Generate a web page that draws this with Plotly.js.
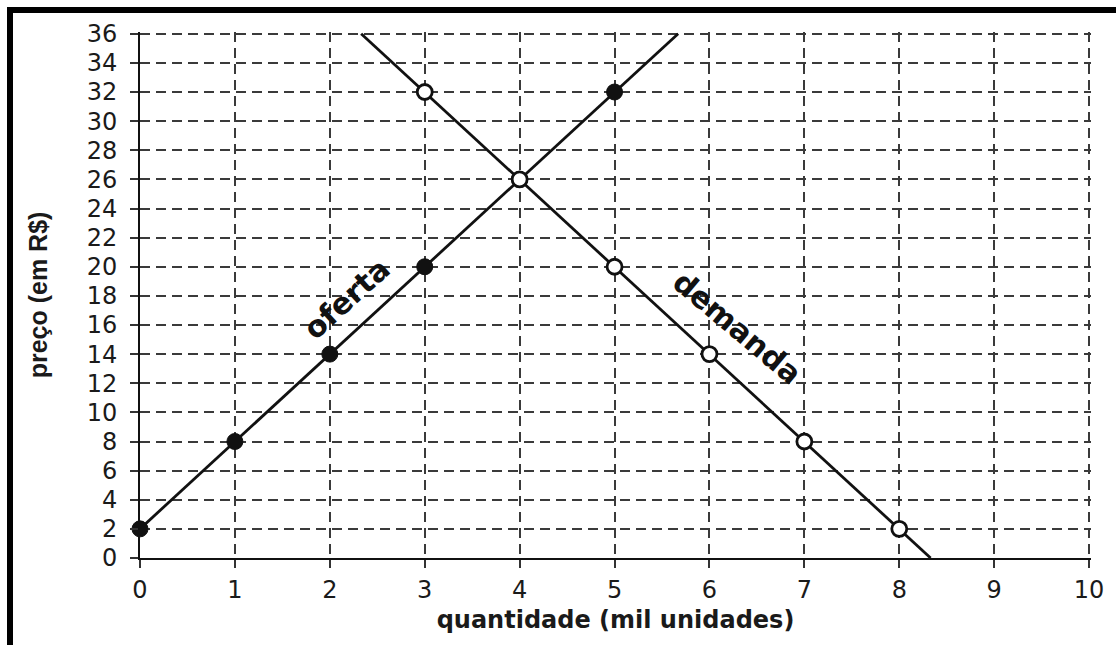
<!DOCTYPE html>
<html>
<head>
<meta charset="utf-8">
<script src="https://cdn.plot.ly/plotly-3.0.1.min.js"></script>
<style>
  html, body { margin: 0; padding: 0; background: #fff; }
  #wrap { position: relative; width: 1116px; height: 645px; overflow: hidden; }
  #chart { position: absolute; left: 0; top: 0; width: 1116px; height: 645px; }
  #frame { position: absolute; left: 7px; top: 7px; right: -10px; bottom: -10px;
           border-left: 6px solid #000; border-top: 6px solid #000; pointer-events: none; }
</style>
</head>
<body>
<div id="wrap">
  <div id="chart"></div>
  <div id="frame"></div>
</div>
<script>
// Quantities (mil unidades) and prices (R$)
const ofertaQtd   = [0, 1, 2, 3, 4, 5];
const ofertaPreco = [2, 8, 14, 20, 26, 32];
const demandaQtd   = [3, 4, 5, 6, 7, 8];
const demandaPreco = [32, 26, 20, 14, 8, 2];
// line extents as drawn in the picture (lines continue to the plot edges)
const ofertaLinhaQtd   = [0, 5.67];
const ofertaLinhaPreco = [2, 36];
const demandaLinhaQtd   = [2.33, 8.33];
const demandaLinhaPreco = [36, 0];

const xTicks = [0, 1, 2, 3, 4, 5, 6, 7, 8, 9, 10];
const yTicks = [0, 2, 4, 6, 8, 10, 12, 14, 16, 18, 20, 22, 24, 26, 28, 30, 32, 34, 36];

const lineStyle = { color: '#111', width: 2.8 };

const traces = [
  { x: ofertaLinhaQtd, y: ofertaLinhaPreco, mode: 'lines', line: lineStyle, hoverinfo: 'skip' },
  { x: demandaLinhaQtd, y: demandaLinhaPreco, mode: 'lines', line: lineStyle, hoverinfo: 'skip' },
  { x: ofertaQtd, y: ofertaPreco, mode: 'markers', cliponaxis: false,
    marker: { size: 16, color: '#111', line: { color: '#111', width: 1 } } },
  { x: demandaQtd, y: demandaPreco, mode: 'markers', cliponaxis: false,
    marker: { size: 15, color: '#fff', line: { color: '#111', width: 2.8 } } }
];

const gridCommon = {
  showgrid: true, gridcolor: '#3a3a3a', gridwidth: 2, griddash: '10px,6px',
  zeroline: false, showline: true, linecolor: '#111', linewidth: 2,
  ticks: 'outside', ticklen: 8, tickwidth: 2, tickcolor: '#333',
  tickfont: { family: 'DejaVu Sans', size: 24, color: '#1a1a1a' }
};

const layout = {
  width: 1116, height: 645,
  margin: { l: 140, r: 25, t: 32, b: 87 },
  paper_bgcolor: '#fff', plot_bgcolor: '#fff',
  showlegend: false,
  xaxis: Object.assign({}, gridCommon, {
    range: [0, 10.02], tickvals: xTicks, ticktext: xTicks.map(String),
    ticklabelstandoff: 1,
    title: { text: 'quantidade (mil unidades)', standoff: 8,
             font: { family: 'DejaVu Sans', size: 24, weight: 'bold', color: '#1a1a1a' } }
  }),
  yaxis: Object.assign({}, gridCommon, {
    range: [0, 36.12], tickvals: yTicks, ticktext: yTicks.map(String),
    ticklabelstandoff: 8,
    title: { text: 'preço (em R$)', standoff: 32,
             font: { family: 'Liberation Sans', size: 25, weight: 'bold', color: '#1a1a1a' } }
  }),
  annotations: [
    { x: 2.18, y: 17.8, xref: 'x', yref: 'y', text: 'oferta', showarrow: false,
      textangle: -42, font: { family: 'DejaVu Sans', size: 30, weight: 'bold', color: '#111' } },
    { x: 6.29, y: 15.8, xref: 'x', yref: 'y', text: 'demanda', showarrow: false,
      textangle: 40, font: { family: 'DejaVu Sans', size: 30, weight: 'bold', color: '#111' } }
  ]
};

Plotly.newPlot('chart', traces, layout, { displayModeBar: false, staticPlot: true });
</script>
</body>
</html>
